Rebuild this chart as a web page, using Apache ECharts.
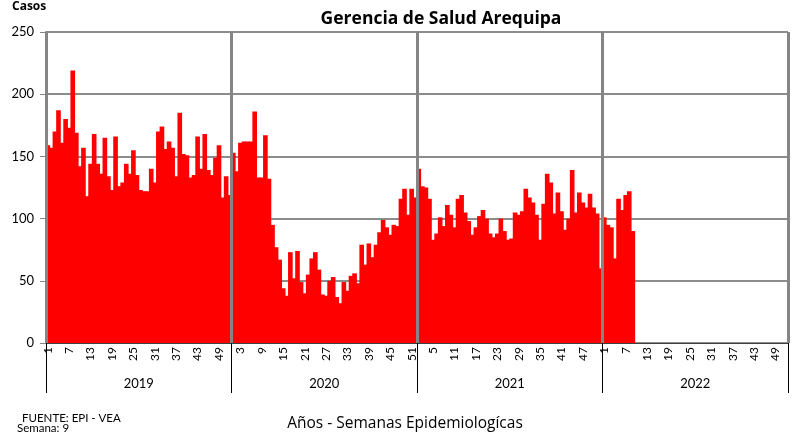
<!DOCTYPE html>
<html>
<head>
<meta charset="utf-8">
<script src="https://cdn.jsdelivr.net/npm/echarts@6/dist/echarts.min.js"></script>
<style>
  html, body { margin: 0; padding: 0; background: #fff; }
  #chart { width: 795px; height: 439px; }
</style>
</head>
<body>
<div id="chart"></div>
<script>
(function() {
  var years = ['2019', '2020', '2021', '2022'];
  var weeksPerYear = 52;

  var cases2019 = [159, 157, 170, 187, 161, 180, 173, 219, 169, 142, 157, 118, 144, 168, 144, 136, 165, 134, 123, 166,
    126, 129, 144, 136, 155, 135, 123, 122, 122, 140, 129, 170, 174, 156, 162, 157, 134, 185, 152, 151,
    133, 135, 166, 140, 168, 139, 135, 149, 159, 117, 134, 119];
  var cases2020 = [153, 138, 161, 162, 162, 162, 186, 133, 133, 167, 132, 95, 77, 67, 44, 38, 73, 52, 74, 49,
    40, 55, 68, 73, 59, 39, 38, 50, 53, 37, 32, 49, 42, 54, 56, 48, 79, 63, 80, 69,
    79, 89, 99, 93, 87, 95, 94, 116, 124, 103, 124, 117];
  var cases2021 = [140, 126, 125, 116, 83, 88, 101, 94, 111, 103, 93, 116, 119, 105, 98, 87, 93, 102, 107, 100,
    88, 85, 88, 100, 90, 83, 84, 105, 103, 106, 124, 117, 113, 103, 83, 112, 136, 129, 104, 121,
    106, 91, 100, 139, 105, 121, 113, 109, 120, 109, 104, 60];
  var cases2022 = [101, 95, 93, 68, 116, 107, 119, 122, 90];

  var weeks = [];
  var values = [];
  [cases2019, cases2020, cases2021, cases2022].forEach(function(arr) {
    for (var w = 1; w <= weeksPerYear; w++) {
      weeks.push(String(w));
      values.push(w <= arr.length ? arr[w - 1] : null);
    }
  });

  var font = 'Lato, "Open Sans", sans-serif';
  var wide = '"Open Sans", sans-serif';
  var chart = echarts.init(document.getElementById('chart'), null, { renderer: 'canvas' });

  chart.setOption({
    animation: false,
    backgroundColor: '#fff',
    textStyle: { fontFamily: font },
    grid: { left: 46, right: 7, top: 32, bottom: 96 },
    graphic: [
      { type: 'text', left: 12, top: 1, style: { text: 'Casos', font: 'bold 12px ' + wide, fill: '#000' } },
      { type: 'text', x: 441, y: 19, style: { text: 'Gerencia de Salud Arequipa', font: 'bold 17.5px ' + wide, fill: '#000', align: 'center', verticalAlign: 'middle' } },
      { type: 'text', x: 22, y: 418, style: { text: 'FUENTE: EPI - VEA', font: '11.5px ' + font, fill: '#000', verticalAlign: 'middle' } },
      { type: 'text', x: 17, y: 428, style: { text: 'Semana: 9', font: '11.5px ' + font, fill: '#000', verticalAlign: 'middle' } },
      { type: 'text', x: 405, y: 424, style: { text: 'Años - Semanas Epidemiologícas', font: '15.5px ' + wide, fill: '#000', align: 'center', verticalAlign: 'middle' } }
    ],
    xAxis: [
      {
        type: 'category',
        data: weeks,
        boundaryGap: true,
        axisLine: { lineStyle: { color: '#404040', width: 1 } },
        axisTick: { show: false },
        axisLabel: { interval: 5, rotate: 90, margin: 4, fontSize: 12, color: '#000', fontFamily: font },
        splitLine: { show: false }
      },
      {
        type: 'category',
        data: years,
        position: 'bottom',
        boundaryGap: true,
        z: 5,
        axisLine: { show: false },
        axisTick: { show: true, length: 50, interval: 0, lineStyle: { color: '#000', width: 1 } },
        axisLabel: { interval: 0, margin: 34, fontSize: 13, color: '#000', fontFamily: font },
        splitLine: { show: true, interval: 0, lineStyle: { color: '#858585', width: 3 } }
      }
    ],
    yAxis: {
      type: 'value',
      min: 0,
      max: 250,
      interval: 50,
      axisLine: { show: true, lineStyle: { color: '#858585', width: 2 } },
      axisTick: { show: true, length: 6, lineStyle: { color: '#858585', width: 1 } },
      axisLabel: { margin: 12, fontSize: 13, color: '#000', fontFamily: font },
      splitLine: { show: true, lineStyle: { color: '#8c8c8c', width: 2 } }
    },
    series: [{
      type: 'bar',
      data: values,
      xAxisIndex: 0,
      barWidth: '130%',
      itemStyle: { color: '#ff0000' }
    }]
  });
})();
</script>
</body>
</html>
